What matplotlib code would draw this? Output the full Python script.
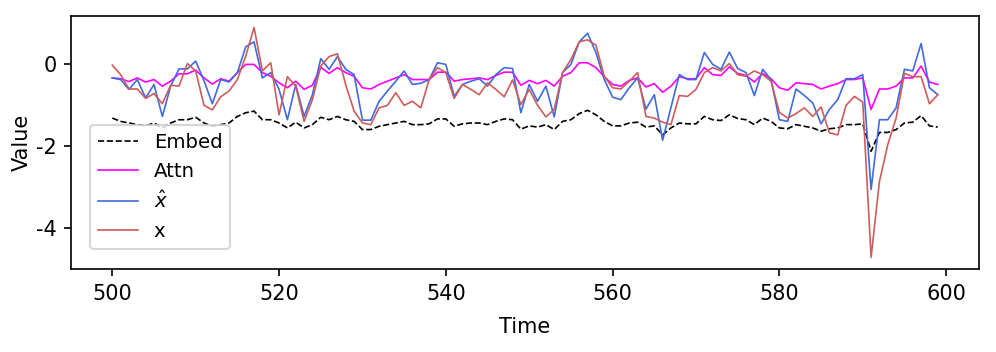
import numpy as np
import matplotlib
matplotlib.use("Agg")
import matplotlib.pyplot as plt

plt.rcParams["axes.unicode_minus"] = False

time = np.arange(500, 600)

embed = [-1.31, -1.39, -1.43, -1.47, -1.50, -1.43, -1.55, -1.43, -1.35, -1.35,
         -1.29, -1.43, -1.51, -1.47, -1.43, -1.27, -1.18, -1.14, -1.35, -1.35,
         -1.43, -1.55, -1.41, -1.55, -1.47, -1.29, -1.35, -1.27, -1.35, -1.39,
         -1.59, -1.59, -1.51, -1.47, -1.43, -1.39, -1.47, -1.47, -1.45, -1.33,
         -1.33, -1.51, -1.45, -1.43, -1.43, -1.47, -1.39, -1.33, -1.35, -1.58,
         -1.50, -1.53, -1.47, -1.59, -1.39, -1.35, -1.20, -1.12, -1.23, -1.39,
         -1.50, -1.50, -1.43, -1.41, -1.53, -1.50, -1.72, -1.55, -1.43, -1.45,
         -1.45, -1.27, -1.35, -1.37, -1.23, -1.32, -1.35, -1.47, -1.31, -1.39,
         -1.55, -1.57, -1.47, -1.51, -1.55, -1.63, -1.57, -1.55, -1.47, -1.47,
         -1.45, -2.12, -1.66, -1.66, -1.59, -1.43, -1.41, -1.25, -1.50, -1.53]

attn = [-0.33, -0.35, -0.42, -0.33, -0.43, -0.37, -0.53, -0.41, -0.23, -0.23,
        -0.14, -0.33, -0.48, -0.35, -0.41, -0.20, 0.00, 0.00, -0.20, -0.29,
        -0.45, -0.57, -0.41, -0.61, -0.51, -0.07, -0.22, -0.08, -0.20, -0.29,
        -0.57, -0.60, -0.49, -0.41, -0.33, -0.25, -0.37, -0.37, -0.37, -0.19,
        -0.19, -0.41, -0.37, -0.35, -0.33, -0.37, -0.27, -0.19, -0.19, -0.51,
        -0.39, -0.47, -0.39, -0.53, -0.29, -0.20, 0.04, 0.04, -0.08, -0.30,
        -0.49, -0.53, -0.39, -0.33, -0.55, -0.47, -0.68, -0.53, -0.30, -0.35,
        -0.35, -0.08, -0.25, -0.27, -0.06, -0.22, -0.27, -0.43, -0.22, -0.35,
        -0.57, -0.63, -0.45, -0.47, -0.49, -0.60, -0.53, -0.47, -0.37, -0.37,
        -0.33, -1.10, -0.60, -0.60, -0.53, -0.33, -0.33, -0.04, -0.43, -0.49]

x_hat = [-0.33, -0.37, -0.61, -0.37, -0.82, -0.49, -1.27, -0.53, -0.11, -0.11,
         0.08, -0.40, -0.96, -0.37, -0.43, -0.20, 0.43, 0.55, -0.33, -0.20,
         -0.61, -1.35, -0.49, -1.27, -0.74, 0.14, -0.12, 0.19, -0.12, -0.25,
         -1.36, -1.36, -0.90, -0.65, -0.41, -0.16, -0.49, -0.46, -0.37, 0.04,
         0.00, -0.78, -0.49, -0.41, -0.35, -0.53, -0.25, -0.08, -0.10, -1.18,
         -0.49, -0.90, -0.53, -1.28, -0.20, 0.00, 0.55, 0.76, 0.29, -0.37,
         -0.80, -0.86, -0.57, -0.33, -1.09, -0.74, -1.85, -1.05, -0.25, -0.37,
         -0.37, 0.29, 0.00, -0.12, 0.30, -0.10, -0.20, -0.76, -0.12, -0.37,
         -1.35, -1.39, -0.60, -0.76, -0.94, -1.45, -1.10, -0.86, -0.35, -0.35,
         -0.25, -3.05, -1.35, -1.35, -1.06, -0.12, -0.16, 0.51, -0.57, -0.74]

x = [-0.02, -0.25, -0.60, -0.60, -0.83, -0.71, -0.96, -0.51, -0.53, 0.02,
     -0.16, -1.00, -1.11, -0.79, -0.65, -0.37, 0.20, 0.90, -0.16, 0.04,
     -1.23, -0.30, -0.53, -1.39, -0.86, -0.04, 0.19, 0.26, -0.50, -1.14,
     -1.43, -1.47, -1.06, -1.00, -0.69, -1.00, -0.90, -1.06, -0.37, -0.08,
     -0.20, -0.83, -0.49, -0.61, -0.74, -0.45, -0.61, -0.79, -0.38, -0.98,
     -0.61, -1.00, -1.28, -1.10, -0.20, 0.12, 0.55, 0.60, 0.47, -0.29,
     -0.57, -0.60, -0.41, -0.20, -1.27, -1.31, -1.41, -1.47, -0.76, -0.78,
     -0.61, -0.20, -0.08, -0.16, 0.02, -0.25, -0.29, -0.16, -0.25, -0.41,
     -1.17, -1.31, -1.20, -1.06, -1.27, -1.04, -1.67, -1.72, -1.00, -0.78,
     -0.92, -4.71, -2.86, -1.96, -1.31, -0.22, -0.30, -0.30, -0.96, -0.74]

fig = plt.figure(figsize=(6.64, 2.3467), dpi=150)
ax = fig.add_axes([0.0713, 0.236, 0.9117, 0.7185])

ax.plot(time, embed, color="black", linestyle="--", linewidth=0.8, label="Embed")
ax.plot(time, attn, color="magenta", linewidth=0.8, label="Attn")
ax.plot(time, x_hat, color="royalblue", linewidth=0.8, label=r"$\hat{x}$")
ax.plot(time, x, color="indianred", linewidth=0.8, label="x")

ax.set_xlabel("Time")
ax.set_ylabel("Value")
ax.xaxis.set_label_coords(0.5, -0.19)
ax.yaxis.set_label_coords(-0.043, 0.5)
ax.legend(loc="lower left", bbox_to_anchor=(0.0213, 0.078), borderaxespad=0,
          fontsize=9.5)

fig.savefig("out.png", dpi=150)
